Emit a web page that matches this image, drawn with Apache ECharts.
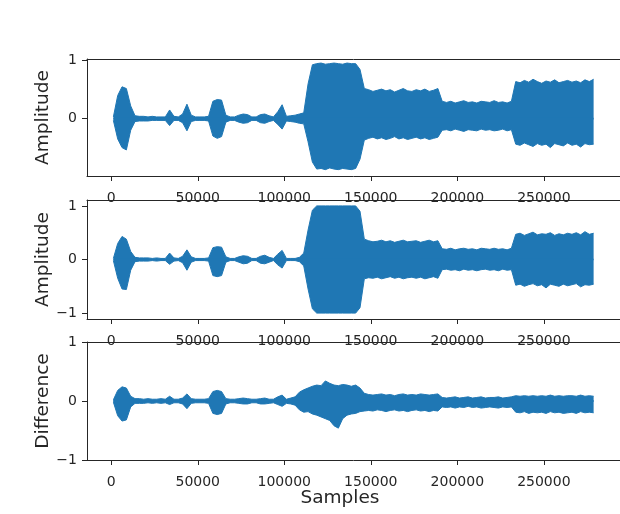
<!DOCTYPE html>
<html>
<head>
<meta charset="utf-8">
<script src="https://cdn.jsdelivr.net/npm/echarts@6/dist/echarts.min.js"></script>
<style>
  html, body { margin: 0; padding: 0; background: #fff; }
  #main { width: 620px; height: 514px; }
</style>
</head>
<body>
<div id="main"></div>
<script>
// waveform envelopes, one value per 2500-sample bin
var BIN = 2500;
var xTicks = [0, 50000, 100000, 150000, 200000, 250000];

var origHi = [
  0.03, 0.40, 0.55, 0.52, 0.22, 0.05, 0.04, 0.04, 0.03, 0.04, 0.03, 0.03, 0.03, 0.15,
  0.04, 0.03, 0.08, 0.25, 0.06, 0.03, 0.03, 0.03, 0.04, 0.30, 0.33, 0.32, 0.06, 0.03,
  0.03, 0.06, 0.08, 0.07, 0.03, 0.03, 0.07, 0.08, 0.05, 0.03, 0.12, 0.24, 0.04, 0.05,
  0.06, 0.08, 0.10, 0.60, 0.93, 0.95, 0.96, 0.94, 0.95, 0.96, 0.95, 0.94, 0.96, 0.95,
  0.95, 0.85, 0.52, 0.50, 0.47, 0.49, 0.51, 0.48, 0.50, 0.46, 0.49, 0.52, 0.48, 0.47,
  0.50, 0.48, 0.51, 0.47, 0.49, 0.52, 0.30, 0.28, 0.30, 0.27, 0.29, 0.31, 0.28, 0.29,
  0.27, 0.30, 0.29, 0.28, 0.31, 0.28, 0.29, 0.27, 0.30, 0.64, 0.62, 0.66, 0.63, 0.68,
  0.64, 0.61, 0.65, 0.63, 0.67, 0.62, 0.64, 0.66, 0.63, 0.65, 0.62, 0.67, 0.64, 0.68
];
var origLo = [
  -0.03, -0.35, -0.50, -0.54, -0.20, -0.05, -0.04, -0.04, -0.04, -0.03, -0.03, -0.03, -0.03, -0.12,
  -0.03, -0.03, -0.07, -0.21, -0.05, -0.03, -0.03, -0.03, -0.04, -0.30, -0.34, -0.31, -0.06, -0.03,
  -0.03, -0.06, -0.08, -0.07, -0.03, -0.03, -0.07, -0.08, -0.05, -0.03, -0.10, -0.18, -0.04, -0.05,
  -0.06, -0.08, -0.09, -0.40, -0.75, -0.87, -0.86, -0.88, -0.85, -0.87, -0.88, -0.86, -0.87, -0.88,
  -0.86, -0.70, -0.37, -0.34, -0.32, -0.35, -0.33, -0.36, -0.34, -0.31, -0.35, -0.33, -0.36, -0.34,
  -0.32, -0.35, -0.33, -0.36, -0.34, -0.32, -0.20, -0.19, -0.21, -0.18, -0.20, -0.22, -0.19, -0.20,
  -0.21, -0.18, -0.20, -0.19, -0.21, -0.20, -0.18, -0.21, -0.19, -0.44, -0.46, -0.42, -0.45, -0.48,
  -0.43, -0.46, -0.44, -0.50, -0.43, -0.45, -0.47, -0.42, -0.46, -0.44, -0.49, -0.43, -0.45, -0.44
];

var procHi = [
  0.02, 0.30, 0.43, 0.38, 0.15, 0.04, 0.03, 0.03, 0.03, 0.02, 0.03, 0.02, 0.02, 0.12,
  0.03, 0.02, 0.06, 0.18, 0.05, 0.02, 0.02, 0.02, 0.03, 0.22, 0.24, 0.23, 0.05, 0.02,
  0.02, 0.05, 0.07, 0.06, 0.02, 0.02, 0.06, 0.08, 0.04, 0.02, 0.10, 0.17, 0.02, 0.02,
  0.02, 0.04, 0.12, 0.55, 0.92, 1.00, 1.00, 1.00, 1.00, 1.00, 1.00, 1.00, 1.00, 1.00,
  1.00, 0.90, 0.38, 0.35, 0.33, 0.34, 0.36, 0.33, 0.35, 0.32, 0.34, 0.36, 0.33, 0.34,
  0.35, 0.32, 0.34, 0.36, 0.33, 0.35, 0.20, 0.19, 0.21, 0.18, 0.20, 0.21, 0.19, 0.20,
  0.18, 0.21, 0.20, 0.19, 0.21, 0.19, 0.20, 0.18, 0.21, 0.47, 0.49, 0.45, 0.48, 0.51,
  0.46, 0.48, 0.47, 0.50, 0.45, 0.48, 0.46, 0.49, 0.47, 0.50, 0.46, 0.52, 0.47, 0.49
];
var procLo = [
  -0.02, -0.35, -0.55, -0.56, -0.20, -0.04, -0.03, -0.03, -0.03, -0.02, -0.03, -0.02, -0.02, -0.09,
  -0.03, -0.02, -0.06, -0.20, -0.05, -0.02, -0.02, -0.02, -0.03, -0.30, -0.32, -0.30, -0.05, -0.02,
  -0.02, -0.05, -0.08, -0.07, -0.02, -0.02, -0.07, -0.08, -0.05, -0.02, -0.10, -0.16, -0.02, -0.02,
  -0.02, -0.04, -0.12, -0.55, -0.92, -1.00, -1.00, -1.00, -1.00, -1.00, -1.00, -1.00, -1.00, -1.00,
  -1.00, -0.90, -0.36, -0.34, -0.35, -0.33, -0.36, -0.34, -0.32, -0.35, -0.33, -0.36, -0.34, -0.33,
  -0.35, -0.33, -0.36, -0.34, -0.32, -0.35, -0.19, -0.18, -0.20, -0.19, -0.21, -0.18, -0.20, -0.19,
  -0.21, -0.19, -0.18, -0.20, -0.19, -0.21, -0.18, -0.20, -0.19, -0.48, -0.46, -0.50, -0.47, -0.45,
  -0.49, -0.47, -0.53, -0.46, -0.48, -0.50, -0.46, -0.49, -0.47, -0.45, -0.51, -0.47, -0.48, -0.46
];

var diffHi = [
  0.02, 0.18, 0.24, 0.22, 0.08, 0.04, 0.04, 0.03, 0.04, 0.03, 0.03, 0.04, 0.03, 0.08,
  0.03, 0.03, 0.05, 0.12, 0.04, 0.03, 0.03, 0.03, 0.04, 0.16, 0.18, 0.16, 0.04, 0.03,
  0.03, 0.04, 0.05, 0.04, 0.03, 0.03, 0.04, 0.05, 0.03, 0.03, 0.07, 0.10, 0.03, 0.05,
  0.07, 0.15, 0.19, 0.22, 0.25, 0.27, 0.26, 0.34, 0.30, 0.27, 0.26, 0.28, 0.27, 0.25,
  0.27, 0.22, 0.13, 0.11, 0.10, 0.11, 0.12, 0.10, 0.11, 0.09, 0.11, 0.12, 0.10, 0.11,
  0.10, 0.12, 0.11, 0.10, 0.11, 0.12, 0.06, 0.05, 0.06, 0.07, 0.05, 0.06, 0.07, 0.05,
  0.06, 0.07, 0.05, 0.06, 0.06, 0.07, 0.05, 0.06, 0.07, 0.09, 0.08, 0.09, 0.08, 0.09,
  0.08, 0.09, 0.08, 0.10, 0.08, 0.09, 0.08, 0.09, 0.09, 0.08, 0.10, 0.08, 0.09, 0.08
];
var diffLo = [
  -0.02, -0.25, -0.34, -0.32, -0.10, -0.04, -0.04, -0.04, -0.03, -0.04, -0.03, -0.04, -0.03, -0.06,
  -0.03, -0.03, -0.05, -0.13, -0.04, -0.03, -0.03, -0.03, -0.04, -0.21, -0.23, -0.21, -0.05, -0.03,
  -0.03, -0.04, -0.05, -0.05, -0.03, -0.03, -0.05, -0.05, -0.04, -0.03, -0.06, -0.09, -0.04, -0.05,
  -0.07, -0.15, -0.19, -0.18, -0.22, -0.24, -0.27, -0.30, -0.33, -0.42, -0.46, -0.30, -0.24, -0.22,
  -0.21, -0.18, -0.17, -0.16, -0.17, -0.15, -0.16, -0.18, -0.16, -0.15, -0.17, -0.16, -0.18, -0.16,
  -0.15, -0.17, -0.16, -0.18, -0.16, -0.17, -0.10, -0.11, -0.10, -0.12, -0.10, -0.11, -0.09, -0.11,
  -0.10, -0.12, -0.11, -0.10, -0.11, -0.12, -0.10, -0.11, -0.10, -0.19, -0.20, -0.18, -0.21, -0.19,
  -0.20, -0.19, -0.21, -0.18, -0.20, -0.19, -0.21, -0.20, -0.19, -0.21, -0.18, -0.20, -0.19, -0.20
];

var FONT = 'DejaVu Sans';
var INK = '#262626';
var BLUE = '#1f77b4';

function toPoints(vals) {
  return vals.map(function (v, i) { return [i * BIN + BIN / 2, v]; });
}

function minusFmt(v) {
  return v < 0 ? '\u2212' + Math.abs(v) : String(v);
}

var grids = [
  { left: 87, top: 59, width: 541, height: 117 },
  { left: 87, top: 200, width: 541, height: 119 },
  { left: 87, top: 342, width: 541, height: 118 }
];
var yRanges = [[-0.99, 1.03, [0, 1]], [-1.11, 1.11, [-1, 0, 1]], [-1, 1, [-1, 0, 1]]];
var yNames = ['Amplitude', 'Amplitude', 'Difference'];
var panels = [[origHi, origLo], [procHi, procLo], [diffHi, diffLo]];

var spine = { show: true, onZero: false, lineStyle: { color: INK, width: 1 } };

var xAxes = [];
grids.forEach(function (g, i) {
  // bottom axis with ticks and labels
  xAxes.push({
    type: 'value', gridIndex: i, position: 'bottom', min: -14000, max: 294000,
    axisLine: spine,
    splitLine: { show: false },
    axisTick: { show: true, length: 5, customValues: xTicks, lineStyle: { color: INK } },
    axisLabel: { customValues: xTicks, margin: 15, color: INK, fontFamily: FONT, fontSize: 14,
      formatter: function (v) { return String(v); } }
  });
  // top spine only
  xAxes.push({
    type: 'value', gridIndex: i, position: 'top', min: -14000, max: 294000,
    axisLine: spine,
    splitLine: { show: false }, axisTick: { show: false }, axisLabel: { show: false }
  });
});

// upper and lower envelope, each filled toward zero (slightly past it so the halves overlap)
var series = [];
panels.forEach(function (p, i) {
  [[p[0], -0.015], [p[1], 0.015]].forEach(function (half) {
    series.push({
      type: 'line', xAxisIndex: i * 2, yAxisIndex: i,
      data: toPoints(half[0]),
      showSymbol: false, silent: true,
      lineStyle: { color: BLUE, width: 1 },
      areaStyle: { color: BLUE, opacity: 1, origin: half[1] }
    });
  });
});

var myChart = echarts.init(document.getElementById('main'));

var option = {
  backgroundColor: '#fff',
  animation: false,
  grid: grids,
  xAxis: xAxes,
  yAxis: grids.map(function (g, i) {
    return {
      type: 'value', gridIndex: i, min: yRanges[i][0], max: yRanges[i][1],
      name: yNames[i], nameLocation: 'middle', nameGap: 34, nameRotate: 90,
      nameMoveOverlap: false,
      nameTextStyle: { color: INK, fontFamily: FONT, fontSize: 18.5 },
      axisLine: spine,
      splitLine: { show: false },
      axisTick: { show: true, length: 5, customValues: yRanges[i][2], lineStyle: { color: INK } },
      axisLabel: { customValues: yRanges[i][2], margin: 10, color: INK, fontFamily: FONT, fontSize: 14, formatter: minusFmt }
    };
  }),
  graphic: [{
    type: 'text', x: 340, y: 498,
    style: { text: 'Samples', fill: INK, font: '18.5px "DejaVu Sans"', align: 'center', verticalAlign: 'middle' }
  }],
  series: series
};

myChart.setOption(option);
</script>
</body>
</html>
